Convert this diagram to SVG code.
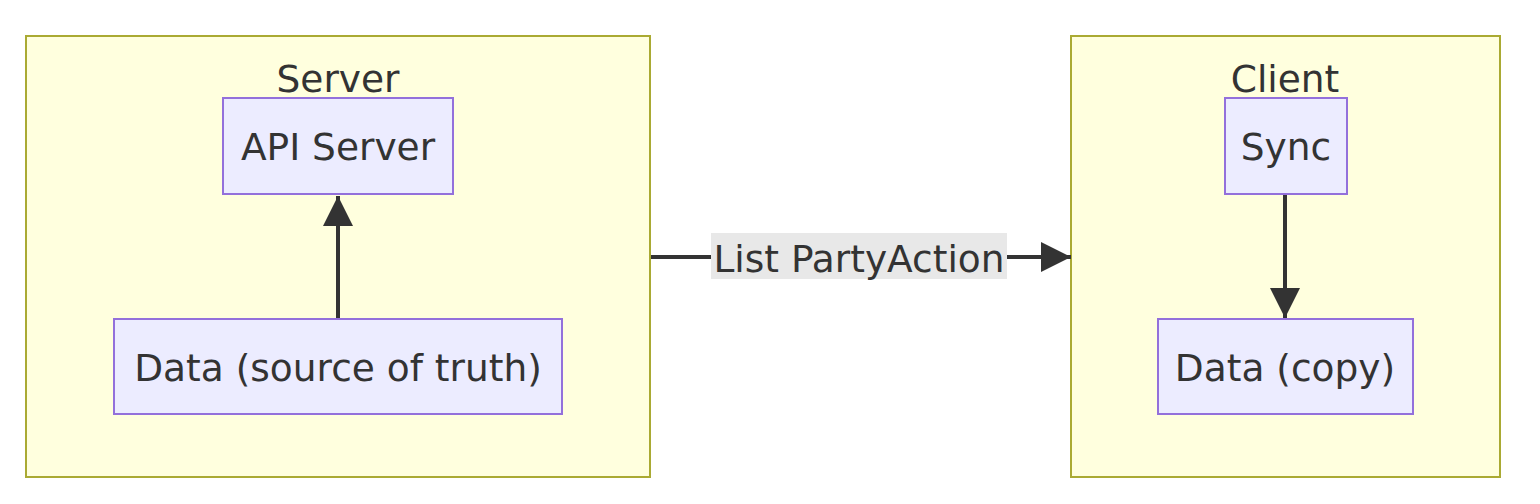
<svg xmlns="http://www.w3.org/2000/svg" width="1540" height="504" viewBox="0 0 1540 504">
<style>
.cluster{fill:#ffffde;stroke:#aaaa33;stroke-width:2}
.node{fill:#ececff;stroke:#9370db;stroke-width:2}
.t{font-family:"DejaVu Sans",Verdana,sans-serif;font-size:37.5px;fill:#333;text-anchor:middle}
.edge{stroke:#333;stroke-width:4;fill:none}
</style>
<defs>
<marker id="arr" markerUnits="userSpaceOnUse" viewBox="0 0 10 10" refX="10" refY="5" markerWidth="30" markerHeight="30" orient="auto">
<path d="M0,0 L10,5 L0,10 z" fill="#333"/>
</marker>
</defs>
<rect width="1540" height="504" fill="#fff"/>
<g id="cluster-server">
<rect class="cluster" x="26" y="36" width="624" height="441"/>
<text class="t" x="338" y="92">Server</text>
</g>
<g id="cluster-client">
<rect class="cluster" x="1071" y="36" width="429" height="441"/>
<text class="t" x="1285" y="92">Client</text>
</g>
<g id="connectors">
<line class="edge" x1="338" y1="319" x2="338" y2="196" marker-end="url(#arr)"/>
<line class="edge" x1="1285" y1="194" x2="1285" y2="318" marker-end="url(#arr)"/>
<line class="edge" x1="651" y1="257" x2="1071" y2="257" marker-end="url(#arr)"/>
<rect x="711" y="233" width="296" height="46" fill="#e8e8e8"/>
<text class="t" x="859" y="272">List PartyAction</text>
</g>
<g id="node-api">
<rect class="node" x="223" y="98" width="230" height="96"/>
<text class="t" x="338" y="160">API Server</text>
</g>
<g id="node-data">
<rect class="node" x="114" y="319" width="448" height="95"/>
<text class="t" x="338" y="381">Data (source of truth)</text>
</g>
<g id="node-sync">
<rect class="node" x="1225" y="98" width="122" height="96"/>
<text class="t" x="1286" y="160">Sync</text>
</g>
<g id="node-datacopy">
<rect class="node" x="1158" y="319" width="255" height="95"/>
<text class="t" x="1285" y="381">Data (copy)</text>
</g>
</svg>
